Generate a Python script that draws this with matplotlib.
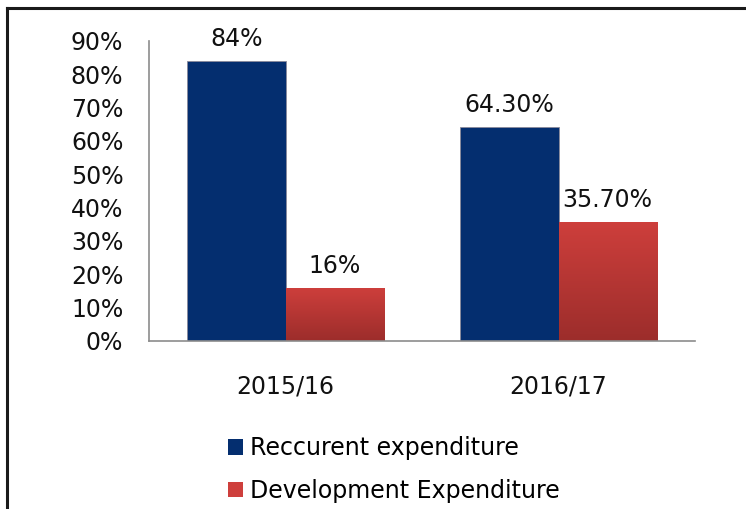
import matplotlib
matplotlib.use("Agg")
import matplotlib.pyplot as plt
import numpy as np
from matplotlib.patches import Patch
from matplotlib.lines import Line2D
from matplotlib.colors import LinearSegmentedColormap

categories = ["2015/16", "2016/17"]
recurrent = [84.0, 64.3]
development = [16.0, 35.7]
recurrent_labels = ["84%", "64.30%"]
development_labels = ["16%", "35.70%"]
yticks = [0, 10, 20, 30, 40, 50, 60, 70, 80, 90]
series_names = ["Reccurent expenditure", "Development Expenditure"]

W, H = 746, 509
fig = plt.figure(figsize=(W / 100, H / 100), dpi=100)
plt.rcParams['font.family'] = ['DejaVu Sans']
FS = 17

ax = fig.add_axes([149 / W, 1 - 341 / H, (695 - 149) / W, (341 - 41) / H])

blue = "#042E6F"
red_top = "#CE3F3C"
red_bot = "#9C2D2B"
cmap = LinearSegmentedColormap.from_list("redgrad", [red_bot, red_top])

x = np.arange(len(categories))
bw = 0.36
b1 = ax.bar(x - bw / 2, recurrent, bw, color=blue, edgecolor="#8a8a9a", linewidth=0.6, zorder=2)
b2 = ax.bar(x + bw / 2, development, bw, color=red_top, edgecolor="#999999", linewidth=0.6, zorder=2)

grad = np.linspace(0, 1, 256).reshape(-1, 1)
for rect in b2:
    x0, y0 = rect.get_x(), rect.get_y()
    w, h = rect.get_width(), rect.get_height()
    im = ax.imshow(grad, cmap=cmap, extent=[x0, x0 + w, y0, y0 + h], origin="lower",
                   aspect="auto", zorder=2.5, interpolation="bilinear")
    im.set_clip_path(rect)

for rects, labs in ((b1, recurrent_labels), (b2, development_labels)):
    for rect, lab in zip(rects, labs):
        ax.annotate(lab, (rect.get_x() + rect.get_width() / 2, rect.get_height()),
                    xytext=(0, 10.8), textcoords="offset points",
                    ha="center", va="baseline", fontsize=FS, color="#111111")

ax.set_xlim(-0.5, 1.5)
ax.set_ylim(0, 90)
ax.set_yticks(yticks)
ax.set_yticklabels([f"{v}%" for v in yticks])
ax.set_xticks(x)
ax.set_xticklabels(categories)
ax.tick_params(axis="y", length=0, pad=18.5, labelsize=FS, colors="#111111")
ax.tick_params(axis="x", length=0, pad=24, labelsize=FS, colors="#111111")
for s in ("top", "right"):
    ax.spines[s].set_visible(False)
for s in ("left", "bottom"):
    ax.spines[s].set_color("#8c8c8c")
    ax.spines[s].set_linewidth(1.2)
ax.set_facecolor("none")

handles = [Patch(facecolor=blue, edgecolor="none"), Patch(facecolor=red_top, edgecolor="none")]
fig.legend(handles, series_names, loc="center left",
           bbox_to_anchor=(228 / W, 1 - 469.5 / H), frameon=False, fontsize=FS,
           handlelength=0.64, handleheight=0.64, handletextpad=0.3,
           labelspacing=0.8, borderpad=0, borderaxespad=0)

fig.add_artist(Line2D([7 / W, 7 / W], [0, 1 - 8 / H], transform=fig.transFigure,
                      color="#1a1a1a", linewidth=2.2, solid_capstyle="projecting"))
fig.add_artist(Line2D([7 / W, 1], [1 - 8 / H, 1 - 8 / H], transform=fig.transFigure,
                      color="#1a1a1a", linewidth=2.2, solid_capstyle="projecting"))

fig.savefig("out.png", dpi=100)
